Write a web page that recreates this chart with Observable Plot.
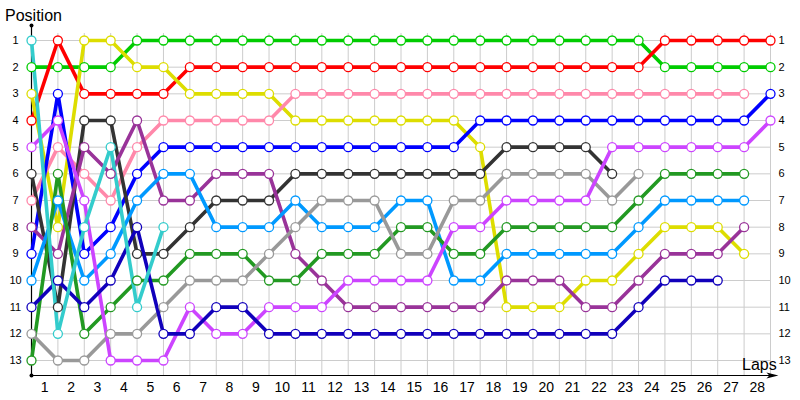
<!DOCTYPE html>
<html>
<head>
<meta charset="utf-8">
<script src="https://cdn.jsdelivr.net/npm/d3@7"></script>
<script src="https://cdn.jsdelivr.net/npm/@observablehq/plot@0.6"></script>
<style>
  body { margin: 0; background: #fff; }
  svg { display: block; }
</style>
</head>
<body>
<div id="chart"></div>
<script>
// ---- Data (race positions per lap, lap 0 = starting grid) ----
const laps = d3.range(0, 29);
const positions = d3.range(1, 14);
const lapLabels = d3.range(1, 29);

const drivers = ["Car A", "Car B", "Car C", "Car D", "Car E", "Car F", "Car G",
                 "Car H", "Car I", "Car J", "Car K", "Car L", "Car M"];
const colors = ["#00cc00", "#ff0000", "#dddd00", "#ff88aa", "#0000ff", "#333333", "#993399",
                "#0099ff", "#229922", "#999999", "#cc44ff", "#1100bb", "#33cccc"];

const green     = [2,2,2,2,1,1,1,1,1,1,1,1,1,1,1,1,1,1,1,1,1,1,1,1,2,2,2,2,2];
const red       = [4,1,3,3,3,3,2,2,2,2,2,2,2,2,2,2,2,2,2,2,2,2,2,2,1,1,1,1,1];
const yellow    = [3,8,1,1,2,2,3,3,3,3,4,4,4,4,4,4,4,5,11,11,11,10,10,9,8,8,8,9];
const pink      = [7,5,6,7,5,4,4,4,4,4,3,3,3,3,3,3,3,3,3,3,3,3,3,3,3,3,3,3];
const blue      = [9,3,9,8,6,5,5,5,5,5,5,5,5,5,5,5,5,4,4,4,4,4,4,4,4,4,4,4,3];
const black     = [6,11,4,4,9,9,8,7,7,7,6,6,6,6,6,6,6,6,5,5,5,5,6];
const purple    = [8,9,5,6,4,7,7,6,6,6,9,10,11,11,11,11,11,11,10,10,10,11,11,10,9,9,9,8];
const lightBlue = [10,7,10,9,7,6,6,8,8,8,7,8,8,8,7,7,10,10,9,9,9,9,9,8,7,7,7,7];
const darkGreen = [13,6,12,11,10,10,9,9,9,10,10,9,9,9,8,8,9,9,8,8,8,8,8,7,6,6,6,6];
const gray      = [12,13,13,12,12,11,10,10,10,9,8,7,7,7,9,9,7,7,6,6,6,6,7,6];
const magenta   = [5,4,7,13,13,13,11,12,12,11,11,11,10,10,10,10,8,8,7,7,7,7,5,5,5,5,5,5,4];
const navy      = [11,10,11,10,8,12,12,11,11,12,12,12,12,12,12,12,12,12,12,12,12,12,12,11,10,10,10];
const cyan      = [1,12,8,5,11,8];

const series = [green, red, yellow, pink, blue, black, purple,
                lightBlue, darkGreen, gray, magenta, navy, cyan];

const rows = drivers.flatMap((name, i) =>
  series[i].map((pos, lap) => ({name, lap, pos})));

// ---- Axis decoration extents (in data units) ----
const yAxisTop = 0.44, yAxisBottom = 13.5625, xAxisEnd = 28.3;

const arrowSymbol = {
  draw(context) {
    context.moveTo(0, 0);
    context.lineTo(-12, -3);
    context.lineTo(-9, 0);
    context.lineTo(-12, 3);
    context.closePath();
  }
};

const plot = Plot.plot({
  width: 800,
  height: 400,
  marginLeft: 31,
  marginRight: 30,
  marginTop: 33,
  marginBottom: 25,
  style: {fontFamily: "'Liberation Sans', Arial, sans-serif", background: "#fff", color: "#000"},
  x: {domain: [0, 28], axis: null},
  y: {domain: [1, 13], range: [40, 360], axis: null},
  color: {domain: drivers, range: colors},
  marks: [
    Plot.gridX(laps, {stroke: "#cccccc", strokeOpacity: 1}),
    Plot.gridY(positions, {stroke: "#cccccc", strokeOpacity: 1}),
    Plot.axisY(positions, {anchor: "left", label: null, tickSize: 0, tickPadding: 16, textAnchor: "middle", fontSize: 11, fill: "#000"}),
    Plot.axisY(positions, {anchor: "right", label: null, tickSize: 0, tickPadding: 8, fontSize: 11, fill: "#000"}),
    Plot.axisX(lapLabels.map(d => d - 0.5), {anchor: "bottom", label: null, tickSize: 0, tickPadding: 7, tickFormat: d => d + 0.5, fontSize: 14, fill: "#000"}),
    Plot.ruleX([0], {y1: yAxisTop, y2: yAxisBottom, stroke: "#000", strokeWidth: 1.2}),
    Plot.ruleY([yAxisBottom], {x1: 0, x2: xAxisEnd - 0.3, stroke: "#000", strokeWidth: 1.2}),
    Plot.dot([[0, yAxisTop], [0, yAxisBottom]], {x: d => d[0], y: d => d[1], r: 2, fill: "#000"}),
    Plot.dot([[xAxisEnd, yAxisBottom]], {x: d => d[0], y: d => d[1], symbol: arrowSymbol, fill: "#000", stroke: "none"}),
    Plot.line(rows, {x: "lap", y: "pos", z: "name", stroke: {value: "name", scale: "color"}, strokeWidth: 3.6, curve: "linear"}),
    Plot.dot(rows, {x: "lap", y: "pos", stroke: {value: "name", scale: "color"}, fill: "#fff", r: 4.5, strokeWidth: 1.3})
  ]
});

const svg = d3.select(plot);
svg.append("text").attr("x", 5).attr("y", 21).attr("text-anchor", "start")
  .attr("font-size", 16).attr("fill", "#000").text("Position");
svg.append("text").attr("x", 742).attr("y", 370).attr("text-anchor", "start")
  .attr("font-size", 16).attr("fill", "#000").text("Laps");

document.getElementById("chart").appendChild(plot);
</script>
</body>
</html>
